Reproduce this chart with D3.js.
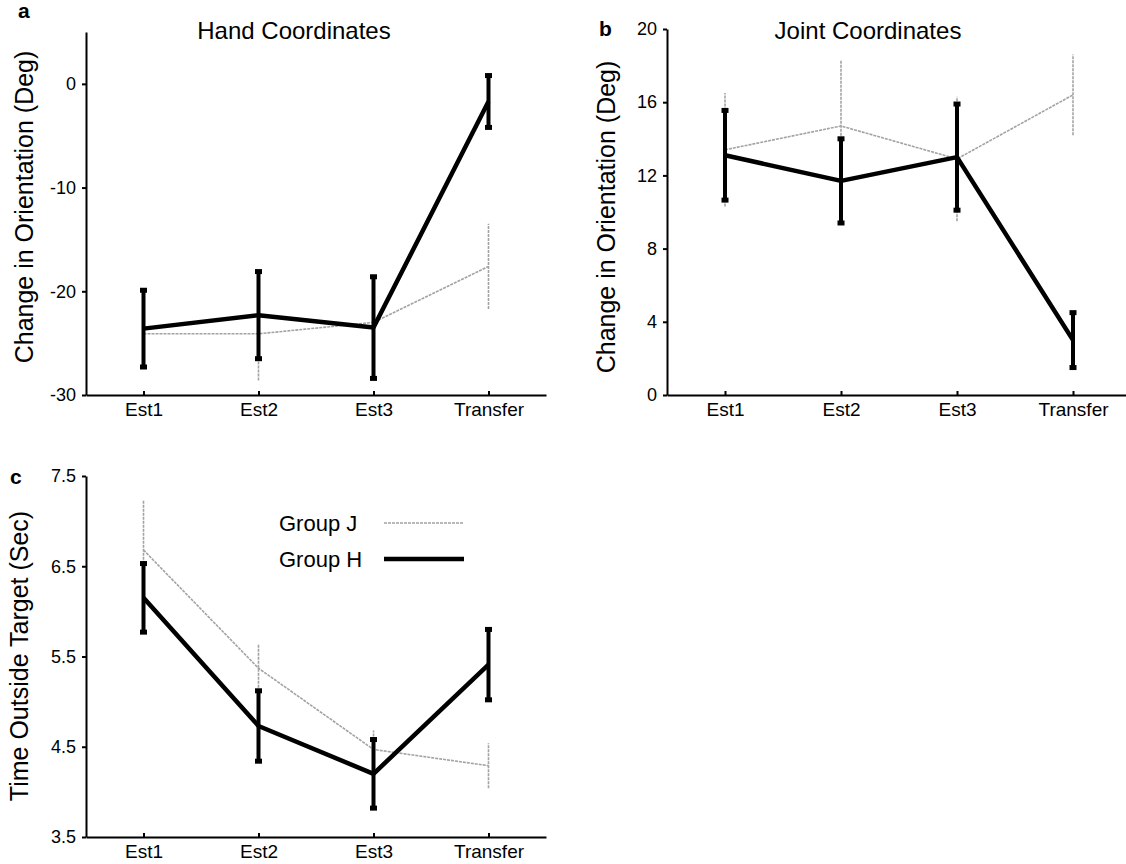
<!DOCTYPE html>
<html>
<head>
<meta charset="utf-8">
<script src="https://cdn.jsdelivr.net/npm/d3@7"></script>
<style>
  body { margin: 0; background: #fff; }
  svg { font-family: "Liberation Sans", Arial, sans-serif; }
  .axis path, .axis line { stroke: #000; stroke-width: 2; }
  .axis text { fill: #000; }
</style>
</head>
<body>
<svg id="chart" width="1126" height="864"></svg>
<script>
// categories shared by every panel
const phases = ['Est1', 'Est2', 'Est3', 'Transfer'];

// panel a: hand coordinates (deg)
const handH = [-23.6, -22.3, -23.5, -1.7];
const handHErr = [3.7, 4.2, 4.9, 2.5];
const handJ = [-24.1, -24.1, -23.0, -17.6];
const handJErr = [3.4, 4.5, 4.2, 4.1];
const handTicks = [-30, -20, -10, 0];

// panel b: joint coordinates (deg)
const jointH = [13.1, 11.7, 13.0, 3.0];
const jointHErr = [2.45, 2.3, 2.9, 1.5];
const jointJ = [13.4, 14.7, 12.9, 16.4];
const jointJErr = [3.1, 3.6, 3.4, 2.2];
const jointTicks = [0, 4, 8, 12, 16, 20];

// panel c: time outside target (sec)
const timeH = [6.15, 4.73, 4.2, 5.41];
const timeHErr = [0.38, 0.39, 0.38, 0.39];
const timeJ = [6.68, 5.37, 4.47, 4.29];
const timeJErr = [0.55, 0.26, 0.21, 0.25];
const timeTicks = [3.5, 4.5, 5.5, 6.5, 7.5];

const groupNames = ['Group J', 'Group H'];

const svg = d3.select('#chart');

const styles = {
  J: { color: '#a3a3a3', width: 1.6, dash: '3,1', errWidth: 1.6, cap: 0 },
  H: { color: '#000', width: 4.5, dash: null, errWidth: 4, cap: 7 }
};

function drawPanel(cfg) {
  const x = d3.scalePoint()
      .domain(phases)
      .range(cfg.xRange)
      .padding(0.5);
  const y = d3.scaleLinear()
      .domain(cfg.yDomain)
      .range(cfg.yRange);

  const g = svg.append('g');

  // axes
  g.append('g')
      .attr('class', 'axis x-axis')
      .attr('transform', `translate(0,${cfg.yRange[0]})`)
      .call(d3.axisBottom(x).tickSizeInner(-4).tickSizeOuter(0).tickPadding(8))
      .call(a => a.selectAll('text').style('font-size', '19px'));

  g.append('g')
      .attr('class', 'axis y-axis')
      .attr('transform', `translate(${cfg.xRange[0]},0)`)
      .call(d3.axisLeft(y).tickValues(cfg.ticks).tickSizeInner(4).tickSizeOuter(0)
        .tickPadding(6).tickFormat(cfg.fmt))
      .call(a => a.selectAll('text').style('font-size', '18px'));

  // series, grey first so the black one sits above it
  const series = [
    { key: 'J', vals: cfg.j, errs: cfg.jErr },
    { key: 'H', vals: cfg.h, errs: cfg.hErr }
  ];

  series.forEach(s => {
    const st = styles[s.key];
    const pts = phases.map((p, i) => ({ p, v: s.vals[i], e: s.errs[i] }));

    g.selectAll(`.err-${s.key}`)
      .data(pts)
      .join('line')
        .attr('class', `err-${s.key}`)
        .attr('x1', d => x(d.p)).attr('x2', d => x(d.p))
        .attr('y1', d => y(d.v - d.e)).attr('y2', d => y(d.v + d.e))
        .attr('stroke', st.color)
        .attr('stroke-width', st.errWidth)
        .attr('stroke-dasharray', st.dash);

    if (st.cap > 0) {
      const caps = pts.flatMap(d => [d.v - d.e, d.v + d.e].map(v => ({ p: d.p, v })));
      g.selectAll(`.cap-${s.key}`)
        .data(caps)
        .join('rect')
          .attr('class', `cap-${s.key}`)
          .attr('x', d => x(d.p) - st.cap / 2)
          .attr('y', d => y(d.v) - 2.5)
          .attr('width', st.cap)
          .attr('height', 5)
          .attr('fill', st.color);
    }

    g.append('path')
        .datum(pts)
        .attr('fill', 'none')
        .attr('stroke', st.color)
        .attr('stroke-width', st.width)
        .attr('stroke-dasharray', st.dash)
        .attr('stroke-linejoin', 'round')
        .attr('d', d3.line().x(d => x(d.p)).y(d => y(d.v)));
  });

  // title
  if (cfg.title) {
    g.append('text')
        .attr('x', cfg.titleX)
        .attr('y', 39)
        .attr('text-anchor', 'middle')
        .style('font-size', '24px')
        .text(cfg.title);
  }

  // panel letter
  g.append('text')
      .attr('x', cfg.letterPos[0])
      .attr('y', cfg.letterPos[1])
      .style('font-size', '21px')
      .style('font-weight', 'bold')
      .text(cfg.letter);

  // y axis label
  g.append('text')
      .attr('transform', `translate(${cfg.labelPos[0]},${cfg.labelPos[1]}) rotate(-90)`)
      .attr('text-anchor', 'middle')
      .style('font-size', '25px')
      .text(cfg.yLabel);

  return { g, x, y };
}

// plain hyphen for negatives, as in the figure
const plain = d => String(d);

drawPanel({
  xRange: [86, 546], yDomain: [-30, 5], yRange: [395, 32],
  ticks: handTicks, fmt: plain,
  h: handH, hErr: handHErr, j: handJ, jErr: handJErr,
  title: 'Hand Coordinates', titleX: 294,
  letter: 'a', letterPos: [18, 18],
  yLabel: 'Change in Orientation (Deg)', labelPos: [33, 207]
});

drawPanel({
  xRange: [667, 1131], yDomain: [0, 20], yRange: [395, 29],
  ticks: jointTicks, fmt: plain,
  h: jointH, hErr: jointHErr, j: jointJ, jErr: jointJErr,
  title: 'Joint Coordinates', titleX: 868,
  letter: 'b', letterPos: [599, 36],
  yLabel: 'Change in Orientation (Deg)', labelPos: [615, 217]
});

const pc = drawPanel({
  xRange: [86, 546], yDomain: [3.5, 7.5], yRange: [837, 476],
  ticks: timeTicks, fmt: d3.format('.1f'),
  h: timeH, hErr: timeHErr, j: timeJ, jErr: timeJErr,
  title: null,
  letter: 'c', letterPos: [10, 484],
  yLabel: 'Time Outside Target (Sec)', labelPos: [28, 656]
});

// legend inside panel c
const legend = pc.g.append('g').attr('transform', 'translate(279,523)');
groupNames.forEach((name, i) => {
  const st = styles[name === 'Group J' ? 'J' : 'H'];
  const row = legend.append('g').attr('transform', `translate(0,${i * 36})`);
  row.append('text')
      .attr('y', 8)
      .style('font-size', '22px')
      .text(name);
  row.append('line')
      .attr('x1', 105).attr('x2', 185)
      .attr('stroke', st.color)
      .attr('stroke-width', st.width)
      .attr('stroke-dasharray', st.dash);
});
</script>
</body>
</html>
